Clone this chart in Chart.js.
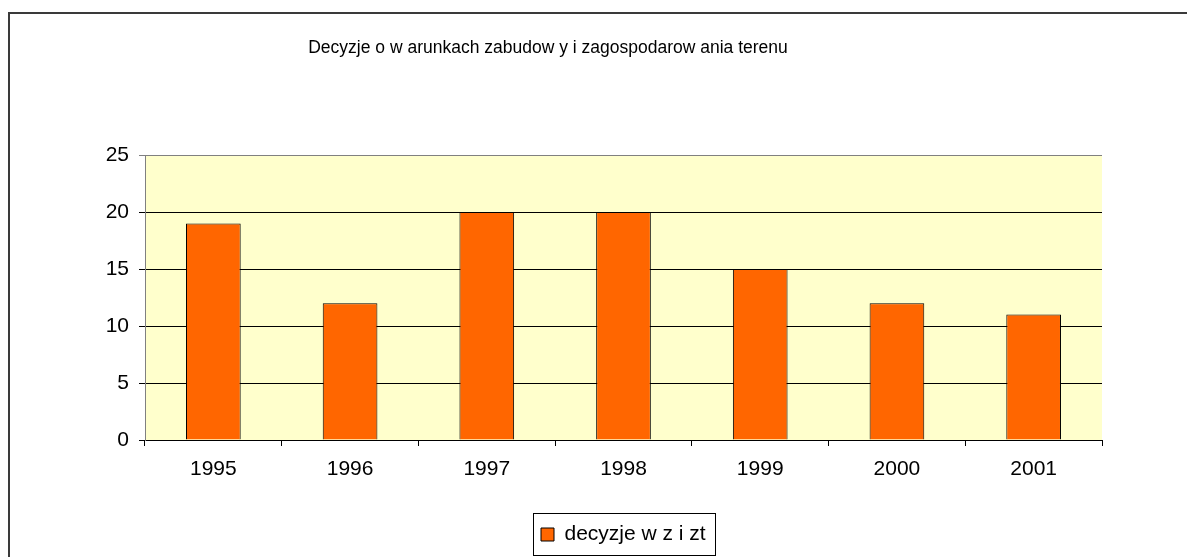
<!DOCTYPE html>
<html>
<head>
<meta charset="utf-8">
<script src="https://cdn.jsdelivr.net/npm/chart.js@4/dist/chart.umd.min.js"></script>
<style>
  html, body { margin: 0; padding: 0; background: #fff; }
  #wrap { width: 1187px; height: 557px; overflow: hidden; }
</style>
</head>
<body>
<div id="wrap"><canvas id="chart" width="1187" height="557"></canvas></div>
<script>
/* DATA */
const years = ["1995", "1996", "1997", "1998", "1999", "2000", "2001"];
const decisions = [19, 12, 20, 20, 15, 12, 11];
const yTicks = [0, 5, 10, 15, 20, 25];
const chartTitle = "Decyzje o w arunkach zabudow y i zagospodarow ania terenu";
const seriesName = "decyzje w z i zt";

Chart.defaults.font.family = "'Liberation Sans', Arial, sans-serif";
Chart.defaults.color = "#000";

/* frame, plot background, legend box, title/legend placement */
const decor = {
    id: "decor",
    afterLayout(chart) {
        // title sits left of canvas centre, legend under the plot
        chart.titleBlock.left = 0;
        chart.titleBlock.right = 1096;
        chart.legend.left = 517;
    },
    beforeDraw(chart) {
        const ctx = chart.ctx;
        const a = chart.chartArea;
        ctx.save();
        ctx.fillStyle = "#fff";
        ctx.fillRect(0, 0, chart.width, chart.height);
        ctx.strokeStyle = "#3a3a3a";
        ctx.lineWidth = 2;
        ctx.strokeRect(9, 13, 1400, 1000);
        ctx.fillStyle = "#FFFFCC";
        ctx.fillRect(a.left, a.top, a.right - a.left, a.bottom - a.top);
        ctx.restore();
    },
    afterDraw(chart) {
        const hb = chart.legend.legendHitBoxes[0];
        if (!hb) return;
        const ctx = chart.ctx;
        ctx.save();
        ctx.strokeStyle = "#000";
        ctx.lineWidth = 1;
        const l = Math.round(hb.left - 8) + 0.5;
        const t = Math.round(hb.top - 11) + 0.5;
        const r = Math.round(hb.left + hb.width + 10) - 0.5;
        const b = Math.round(hb.top + hb.height + 11) - 0.5;
        ctx.strokeRect(l, t, r - l, b - t);
        ctx.restore();
    }
};

new Chart(document.getElementById("chart"), {
    type: "bar",
    data: {
        labels: years,
        datasets: [{
            label: seriesName,
            data: decisions,
            backgroundColor: "#FF6600",
            borderColor: "#000",
            borderWidth: 1,
            barPercentage: 0.4,
            categoryPercentage: 1
        }]
    },
    options: {
        responsive: false,
        animation: false,
        layout: { padding: { left: 0, right: 85, top: 0, bottom: 2 } },
        plugins: {
            tooltip: { enabled: false },
            title: {
                display: true,
                text: chartTitle,
                color: "#000",
                font: { size: 17.5, weight: "normal" },
                padding: { top: 38, bottom: 96 }
            },
            legend: {
                position: "bottom",
                align: "start",
                labels: {
                    boxWidth: 13,
                    boxHeight: 13,
                    padding: 24,
                    color: "#000",
                    font: { size: 21 }
                }
            }
        },
        scales: {
            x: {
                grid: {
                    offset: true,
                    drawOnChartArea: false,
                    drawTicks: true,
                    tickLength: 6,
                    color: "#000"
                },
                border: { color: "#000", width: 1 },
                ticks: { padding: 11, font: { size: 21 }, color: "#000" },
                afterFit(scale) { scale.height = 60; }
            },
            y: {
                min: 0,
                max: 25,
                afterBuildTicks(scale) {
                    scale.ticks = yTicks.map(v => ({ value: v }));
                },
                grid: {
                    color: ctx => (ctx.tick && ctx.tick.value === 25) ? "#808080" : "#000",
                    tickLength: 6
                },
                border: { color: "#808080", width: 1 },
                ticks: { padding: 10, font: { size: 21 }, color: "#000" },
                afterFit(scale) { scale.width = 145; }
            }
        }
    },
    plugins: [decor]
});
</script>
</body>
</html>
